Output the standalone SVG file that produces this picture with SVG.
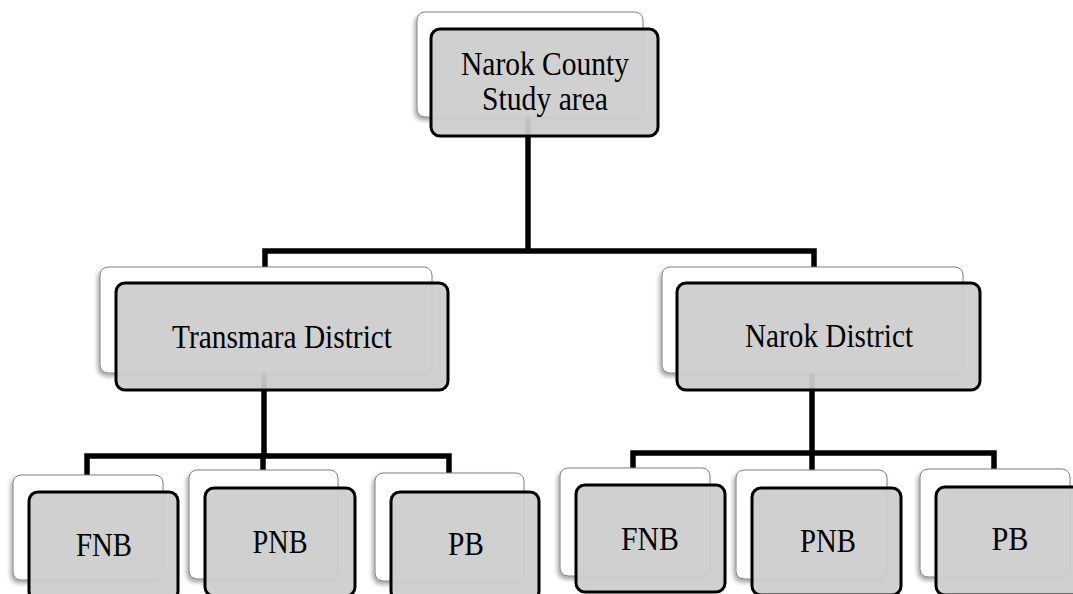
<svg xmlns="http://www.w3.org/2000/svg" width="1073" height="594" viewBox="0 0 1073 594">
<defs>
<filter id="sh" x="-10%" y="-10%" width="120%" height="130%">
<feDropShadow dx="-2" dy="3" stdDeviation="2" flood-color="#000" flood-opacity="0.35"/>
</filter>
<style>
.back{fill:#fff;stroke:#808080;stroke-width:1;filter:url(#sh)}
.front{fill:#cdcdcd;fill-opacity:0.94;stroke:#000;stroke-width:3}
.t{font-family:"Liberation Serif","Times New Roman",serif;font-size:34px;fill:#000;text-anchor:middle}
.c{fill:none;stroke:#000;stroke-width:5.5;stroke-linejoin:miter;stroke-linecap:butt}
</style>
</defs>
<rect width="1073" height="594" fill="#fff"/>
<g id="connectors">
<path class="c" d="M528,80 V251"/>
<path class="c" d="M265,300 V251 H814 V300"/>
<path class="c" d="M264,340 V456"/>
<path class="c" d="M87,490 V456 H449 V490"/>
<path class="c" d="M263,456 V490"/>
<path class="c" d="M812,340 V453"/>
<path class="c" d="M633,490 V453 H994 V490"/>
<path class="c" d="M812,453 V490"/>
</g>
<g id="narok-county">
<rect class="back" x="417" y="12" width="226" height="105" rx="8"/>
<rect class="front" x="431" y="29" width="227" height="107" rx="9"/>
<text class="t" x="545" y="75" textLength="168" lengthAdjust="spacingAndGlyphs">Narok County</text>
<text class="t" x="545" y="110" textLength="126" lengthAdjust="spacingAndGlyphs">Study area</text>
</g>
<g id="transmara">
<rect class="back" x="100" y="267" width="332" height="106" rx="8"/>
<rect class="front" x="116" y="283" width="332" height="107" rx="9"/>
<text class="t" x="282" y="348" textLength="220" lengthAdjust="spacingAndGlyphs">Transmara  District</text>
</g>
<g id="narok-district">
<rect class="back" x="662" y="267" width="301" height="106" rx="8"/>
<rect class="front" x="677" y="283" width="303" height="107" rx="9"/>
<text class="t" x="829" y="347" textLength="168" lengthAdjust="spacingAndGlyphs">Narok District</text>
</g>
<g id="t-fnb">
<rect class="back" x="13" y="475" width="150" height="105" rx="8"/>
<rect class="front" x="29" y="492" width="149" height="108" rx="9"/>
<text class="t" x="104" y="556" textLength="56" lengthAdjust="spacingAndGlyphs">FNB</text>
</g>
<g id="t-pnb">
<rect class="back" x="189" y="470" width="149" height="109" rx="8"/>
<rect class="front" x="205" y="488" width="150" height="108" rx="9"/>
<text class="t" x="280" y="553" textLength="55" lengthAdjust="spacingAndGlyphs">PNB</text>
</g>
<g id="t-pb">
<rect class="back" x="375" y="473" width="149" height="108" rx="8"/>
<rect class="front" x="391" y="492" width="148" height="108" rx="9"/>
<text class="t" x="466" y="555" textLength="36" lengthAdjust="spacingAndGlyphs">PB</text>
</g>
<g id="n-fnb">
<rect class="back" x="560" y="468" width="150" height="108" rx="8"/>
<rect class="front" x="576" y="485" width="149" height="107" rx="9"/>
<text class="t" x="650" y="550" textLength="58" lengthAdjust="spacingAndGlyphs">FNB</text>
</g>
<g id="n-pnb">
<rect class="back" x="736" y="470" width="151" height="109" rx="8"/>
<rect class="front" x="752" y="488" width="149" height="107" rx="9"/>
<text class="t" x="828" y="552" textLength="56" lengthAdjust="spacingAndGlyphs">PNB</text>
</g>
<g id="n-pb">
<rect class="back" x="920" y="469" width="150" height="108" rx="8"/>
<rect class="front" x="936" y="487" width="150" height="108" rx="9"/>
<text class="t" x="1010" y="550" textLength="37" lengthAdjust="spacingAndGlyphs">PB</text>
</g>
</svg>
